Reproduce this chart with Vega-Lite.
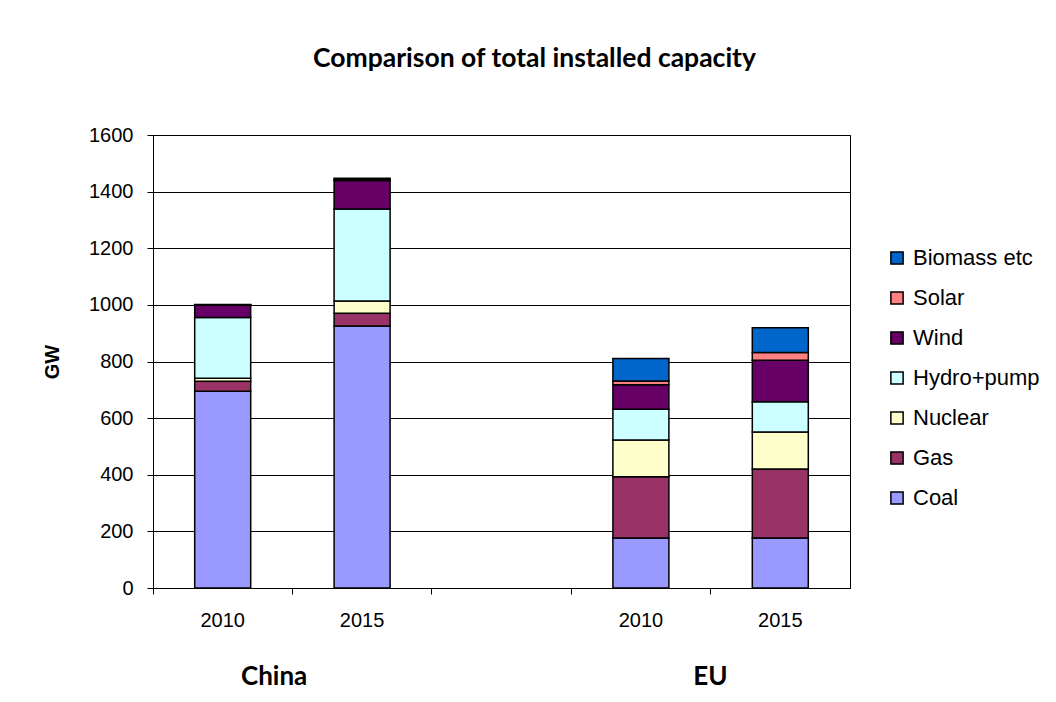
{
  "$schema": "https://vega.github.io/schema/vega-lite/v6.json",
  "width": 697,
  "height": 453,
  "autosize": {"type": "none"},
  "padding": {"left": 153, "top": 135, "right": 206, "bottom": 114},
  "background": "white",
  "config": {
    "view": {"stroke": "#000000", "strokeWidth": 1},
    "font": "Liberation Sans"
  },
  "title": {
    "text": "Comparison of total installed capacity",
    "font": "Lato",
    "fontWeight": "bold",
    "fontSize": 26.5,
    "color": "#000000",
    "anchor": "middle",
    "dx": 33,
    "offset": 53
  },
  "data": {
    "values": [
      {"cat": "C2010", "type": "Coal", "o": 1, "gw": 695},
      {"cat": "C2010", "type": "Gas", "o": 2, "gw": 35},
      {"cat": "C2010", "type": "Nuclear", "o": 3, "gw": 11},
      {"cat": "C2010", "type": "Hydro+pump", "o": 4, "gw": 214},
      {"cat": "C2010", "type": "Wind", "o": 5, "gw": 45},
      {"cat": "C2010", "type": "Solar", "o": 6, "gw": 0.5},
      {"cat": "C2010", "type": "Biomass etc", "o": 7, "gw": 0.5},
      {"cat": "C2015", "type": "Coal", "o": 1, "gw": 925},
      {"cat": "C2015", "type": "Gas", "o": 2, "gw": 45},
      {"cat": "C2015", "type": "Nuclear", "o": 3, "gw": 44},
      {"cat": "C2015", "type": "Hydro+pump", "o": 4, "gw": 325},
      {"cat": "C2015", "type": "Wind", "o": 5, "gw": 100},
      {"cat": "C2015", "type": "Solar", "o": 6, "gw": 4},
      {"cat": "C2015", "type": "Biomass etc", "o": 7, "gw": 4},
      {"cat": "E2010", "type": "Coal", "o": 1, "gw": 177},
      {"cat": "E2010", "type": "Gas", "o": 2, "gw": 216},
      {"cat": "E2010", "type": "Nuclear", "o": 3, "gw": 130},
      {"cat": "E2010", "type": "Hydro+pump", "o": 4, "gw": 108},
      {"cat": "E2010", "type": "Wind", "o": 5, "gw": 87},
      {"cat": "E2010", "type": "Solar", "o": 6, "gw": 13},
      {"cat": "E2010", "type": "Biomass etc", "o": 7, "gw": 80},
      {"cat": "E2015", "type": "Coal", "o": 1, "gw": 177},
      {"cat": "E2015", "type": "Gas", "o": 2, "gw": 243},
      {"cat": "E2015", "type": "Nuclear", "o": 3, "gw": 131},
      {"cat": "E2015", "type": "Hydro+pump", "o": 4, "gw": 107},
      {"cat": "E2015", "type": "Wind", "o": 5, "gw": 146},
      {"cat": "E2015", "type": "Solar", "o": 6, "gw": 28},
      {"cat": "E2015", "type": "Biomass etc", "o": 7, "gw": 87}
    ]
  },
  "resolve": {"scale": {"x": "shared"}, "axis": {"x": "independent"}},
  "layer": [
    {
      "mark": {"type": "bar", "size": 56, "stroke": "#000000", "strokeWidth": 1.5},
      "encoding": {
        "x": {
          "field": "cat",
          "type": "nominal",
          "scale": {"domain": ["C2010", "C2015", "gap", "E2010", "E2015"], "paddingInner": 0, "paddingOuter": 0},
          "axis": {
            "title": null,
            "orient": "bottom",
            "bandPosition": 0,
            "labelExpr": "datum.value == 'gap' ? '' : substring(datum.value, 1)",
            "labelAngle": 0,
            "labelFont": "Liberation Sans",
            "labelFontSize": 20,
            "labelColor": "#000000",
            "labelPadding": 16,
            "tickColor": "#000000",
            "tickSize": 6,
            "domainColor": "#000000",
            "grid": false
          }
        },
        "y": {
          "field": "gw",
          "type": "quantitative",
          "stack": "zero",
          "scale": {"domain": [0, 1600], "nice": false},
          "axis": {
            "title": "GW",
            "titleFont": "Liberation Sans",
            "titleFontSize": 20,
            "titleFontWeight": "bold",
            "titleColor": "#000000",
            "titlePadding": 26,
            "format": "d",
            "values": [0, 200, 400, 600, 800, 1000, 1200, 1400, 1600],
            "labelFont": "Liberation Sans",
            "labelFontSize": 20,
            "labelColor": "#000000",
            "labelPadding": 14,
            "tickColor": "#000000",
            "tickSize": 6,
            "domainColor": "#000000",
            "grid": true,
            "gridColor": "#000000",
            "gridWidth": 1
          }
        },
        "color": {
          "field": "type",
          "type": "nominal",
          "scale": {
            "domain": ["Biomass etc", "Solar", "Wind", "Hydro+pump", "Nuclear", "Gas", "Coal"],
            "range": ["#0066CC", "#FF8080", "#660066", "#CCFFFF", "#FFFFCC", "#993366", "#9999FF"]
          },
          "legend": {
            "title": null,
            "orient": "none",
            "legendX": 733,
            "legendY": 112,
            "symbolType": "square",
            "symbolSize": 150,
            "symbolStrokeColor": "#000000",
            "symbolStrokeWidth": 1.5,
            "symbolOpacity": 1,
            "labelFont": "Liberation Sans",
            "labelFontSize": 22,
            "labelColor": "#000000",
            "labelOffset": 5,
            "rowPadding": 18,
            "labelLimit": 300
          }
        },
        "order": {"field": "o", "type": "quantitative", "sort": "ascending"}
      }
    },
    {
      "mark": {"type": "text", "text": ""},
      "encoding": {
        "x": {
          "field": "cat",
          "type": "nominal",
          "axis": {
            "title": null,
            "orient": "bottom",
            "labelExpr": "datum.value == 'C2015' ? 'China' : datum.value == 'E2015' ? 'EU' : ''",
            "labelAngle": 0,
            "labelFont": "Lato",
            "labelFontWeight": "bold",
            "labelFontSize": 26,
            "labelColor": "#000000",
            "labelPadding": 75,
            "labelOffset": {"condition": {"test": "datum.value == 'C2015'", "value": -88}, "value": -70},
            "ticks": false,
            "domain": false,
            "grid": false
          }
        }
      }
    }
  ]
}
